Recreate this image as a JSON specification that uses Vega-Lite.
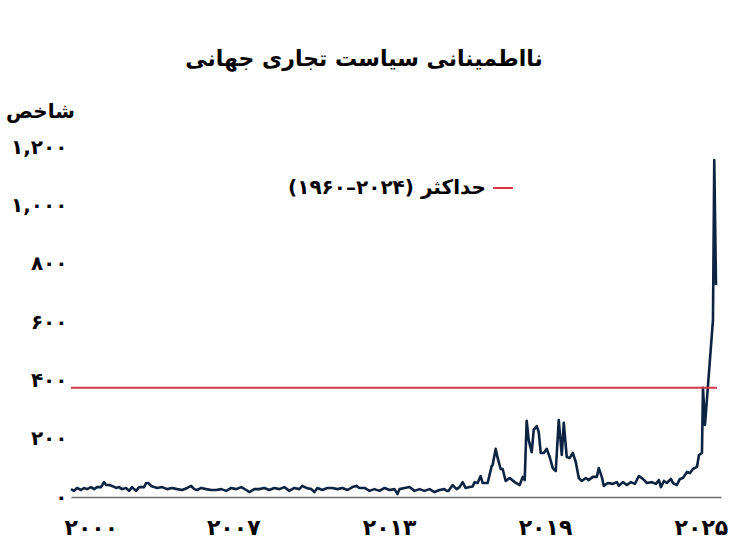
{
  "$schema": "https://vega.github.io/schema/vega-lite/v6.json",
  "width": 650,
  "height": 350,
  "autosize": {"type": "none"},
  "padding": {"left": 71, "top": 147, "right": 21, "bottom": 47},
  "background": "white",
  "title": {
    "text": "نااطمینانی سیاست تجاری جهانی",
    "font": "DejaVu Sans",
    "fontSize": 22,
    "fontWeight": "bold",
    "color": "black",
    "anchor": "middle",
    "frame": "group",
    "dx": -32,
    "offset": 30
  },
  "config": {"view": {"stroke": null}, "font": "DejaVu Sans"},
  "datasets": {
    "series": [
      {"year": 2000.755, "index": 27}, {"year": 2000.871, "index": 21}, {"year": 2000.986, "index": 31}, {"year": 2001.140, "index": 24},
      {"year": 2001.256, "index": 31}, {"year": 2001.372, "index": 27}, {"year": 2001.526, "index": 34}, {"year": 2001.642, "index": 27},
      {"year": 2001.757, "index": 34}, {"year": 2001.911, "index": 34}, {"year": 2002.027, "index": 51}, {"year": 2002.104, "index": 41},
      {"year": 2002.220, "index": 41}, {"year": 2002.335, "index": 38}, {"year": 2002.490, "index": 31}, {"year": 2002.605, "index": 34},
      {"year": 2002.721, "index": 27}, {"year": 2002.875, "index": 31}, {"year": 2002.991, "index": 21}, {"year": 2003.106, "index": 34},
      {"year": 2003.261, "index": 21}, {"year": 2003.376, "index": 34}, {"year": 2003.569, "index": 34}, {"year": 2003.646, "index": 48},
      {"year": 2003.723, "index": 48}, {"year": 2003.839, "index": 38}, {"year": 2003.955, "index": 34}, {"year": 2004.070, "index": 31},
      {"year": 2004.263, "index": 34}, {"year": 2004.456, "index": 27}, {"year": 2004.648, "index": 31}, {"year": 2004.841, "index": 27},
      {"year": 2005.034, "index": 24}, {"year": 2005.227, "index": 31}, {"year": 2005.381, "index": 38}, {"year": 2005.497, "index": 27},
      {"year": 2005.612, "index": 24}, {"year": 2005.766, "index": 31}, {"year": 2005.959, "index": 27}, {"year": 2006.152, "index": 24},
      {"year": 2006.345, "index": 24}, {"year": 2006.537, "index": 27}, {"year": 2006.730, "index": 21}, {"year": 2006.923, "index": 31},
      {"year": 2007.116, "index": 27}, {"year": 2007.308, "index": 34}, {"year": 2007.501, "index": 24}, {"year": 2007.617, "index": 17},
      {"year": 2007.810, "index": 27}, {"year": 2008.002, "index": 27}, {"year": 2008.195, "index": 31}, {"year": 2008.388, "index": 24},
      {"year": 2008.581, "index": 31}, {"year": 2008.773, "index": 27}, {"year": 2008.966, "index": 34}, {"year": 2009.159, "index": 21},
      {"year": 2009.352, "index": 31}, {"year": 2009.544, "index": 27}, {"year": 2009.660, "index": 38}, {"year": 2009.814, "index": 31},
      {"year": 2010.007, "index": 27}, {"year": 2010.123, "index": 17}, {"year": 2010.238, "index": 31}, {"year": 2010.431, "index": 24},
      {"year": 2010.624, "index": 31}, {"year": 2010.817, "index": 31}, {"year": 2011.009, "index": 27}, {"year": 2011.202, "index": 31},
      {"year": 2011.395, "index": 24}, {"year": 2011.588, "index": 34}, {"year": 2011.742, "index": 38}, {"year": 2011.857, "index": 31},
      {"year": 2012.050, "index": 31}, {"year": 2012.243, "index": 21}, {"year": 2012.436, "index": 27}, {"year": 2012.628, "index": 21},
      {"year": 2012.821, "index": 31}, {"year": 2013.014, "index": 24}, {"year": 2013.207, "index": 27}, {"year": 2013.322, "index": 10},
      {"year": 2013.399, "index": 27}, {"year": 2013.592, "index": 31}, {"year": 2013.785, "index": 34}, {"year": 2013.978, "index": 21},
      {"year": 2014.170, "index": 27}, {"year": 2014.363, "index": 21}, {"year": 2014.556, "index": 27}, {"year": 2014.749, "index": 17},
      {"year": 2014.941, "index": 24}, {"year": 2015.134, "index": 27}, {"year": 2015.211, "index": 21}, {"year": 2015.288, "index": 21},
      {"year": 2015.443, "index": 41}, {"year": 2015.520, "index": 34}, {"year": 2015.597, "index": 27}, {"year": 2015.712, "index": 34},
      {"year": 2015.828, "index": 51}, {"year": 2015.944, "index": 31}, {"year": 2016.098, "index": 34}, {"year": 2016.214, "index": 36},
      {"year": 2016.291, "index": 51}, {"year": 2016.406, "index": 48}, {"year": 2016.522, "index": 72}, {"year": 2016.599, "index": 48},
      {"year": 2016.792, "index": 48}, {"year": 2016.946, "index": 106}, {"year": 2016.985, "index": 110}, {"year": 2017.100, "index": 165},
      {"year": 2017.177, "index": 134}, {"year": 2017.293, "index": 96}, {"year": 2017.370, "index": 96}, {"year": 2017.486, "index": 55},
      {"year": 2017.640, "index": 65}, {"year": 2017.833, "index": 51}, {"year": 2018.025, "index": 41}, {"year": 2018.141, "index": 69},
      {"year": 2018.218, "index": 58}, {"year": 2018.295, "index": 261}, {"year": 2018.372, "index": 195}, {"year": 2018.488, "index": 154},
      {"year": 2018.565, "index": 230}, {"year": 2018.681, "index": 243}, {"year": 2018.758, "index": 223}, {"year": 2018.835, "index": 151},
      {"year": 2018.951, "index": 151}, {"year": 2019.066, "index": 165}, {"year": 2019.182, "index": 137}, {"year": 2019.298, "index": 99},
      {"year": 2019.413, "index": 89}, {"year": 2019.529, "index": 264}, {"year": 2019.645, "index": 144}, {"year": 2019.722, "index": 254},
      {"year": 2019.837, "index": 137}, {"year": 2019.953, "index": 134}, {"year": 2020.069, "index": 151}, {"year": 2020.184, "index": 120},
      {"year": 2020.300, "index": 65}, {"year": 2020.416, "index": 55}, {"year": 2020.570, "index": 65}, {"year": 2020.685, "index": 58},
      {"year": 2020.839, "index": 69}, {"year": 2020.994, "index": 69}, {"year": 2021.071, "index": 99}, {"year": 2021.186, "index": 69},
      {"year": 2021.263, "index": 38}, {"year": 2021.417, "index": 48}, {"year": 2021.610, "index": 45}, {"year": 2021.764, "index": 51},
      {"year": 2021.841, "index": 38}, {"year": 2021.996, "index": 51}, {"year": 2022.150, "index": 41}, {"year": 2022.304, "index": 51},
      {"year": 2022.459, "index": 45}, {"year": 2022.613, "index": 72}, {"year": 2022.767, "index": 62}, {"year": 2022.921, "index": 48},
      {"year": 2023.114, "index": 51}, {"year": 2023.268, "index": 45}, {"year": 2023.384, "index": 58}, {"year": 2023.461, "index": 34},
      {"year": 2023.577, "index": 55}, {"year": 2023.692, "index": 48}, {"year": 2023.846, "index": 62}, {"year": 2023.923, "index": 48},
      {"year": 2024.078, "index": 41}, {"year": 2024.193, "index": 62}, {"year": 2024.309, "index": 65}, {"year": 2024.463, "index": 86},
      {"year": 2024.579, "index": 82}, {"year": 2024.694, "index": 96}, {"year": 2024.849, "index": 103}, {"year": 2024.926, "index": 144},
      {"year": 2025.041, "index": 151}, {"year": 2025.080, "index": 374}, {"year": 2025.157, "index": 247}, {"year": 2025.465, "index": 607},
      {"year": 2025.515, "index": 1155}, {"year": 2025.581, "index": 727}
    ],
    "maxline": [
      {"start": 2000.755, "end": 2025.62, "value": 375, "label": "حداکثر (⁦۱۹۶۰–۲۰۲۴⁩)‏"}
    ]
  },
  "layer": [
    {
      "data": {"name": "series"},
      "mark": {"type": "line", "color": "#0c2341", "strokeWidth": 2.6, "strokeJoin": "round"},
      "encoding": {
        "x": {
          "field": "year",
          "type": "quantitative",
          "scale": {"domain": [2000.755, 2025.774], "nice": false, "zero": false},
          "axis": {
            "title": null,
            "values": [2000.755, 2007, 2013, 2019, 2025],
            "labelExpr": "datum.value < 2001 ? '۲۰۰۰' : datum.value == 2007 ? '۲۰۰۷' : datum.value == 2013 ? '۲۰۱۳' : datum.value == 2019 ? '۲۰۱۹' : '۲۰۲۵'",
            "ticks": false,
            "grid": false,
            "domainColor": "#6b6b6b",
            "domainWidth": 1.5,
            "labelFont": "DejaVu Sans",
            "labelFontSize": 22,
            "labelFontWeight": "bold",
            "labelColor": "black",
            "labelPadding": 20,
            "labelFlush": false,
            "labelAlign": {"condition": {"test": "datum.value < 2001", "value": "left"}, "value": "center"},
            "labelOffset": {"condition": {"test": "datum.value < 2001", "value": -7}, "value": 0}
          }
        },
        "y": {
          "field": "index",
          "type": "quantitative",
          "scale": {"domain": [0, 1200], "nice": false},
          "axis": {
            "title": "شاخص",
            "titleAngle": 0,
            "titleAlign": "center",
            "titleBaseline": "middle",
            "titleX": -31,
            "titleY": -36,
            "titleFont": "DejaVu Sans",
            "titleFontSize": 20,
            "titleFontWeight": "bold",
            "titleColor": "black",
            "values": [0, 200, 400, 600, 800, 1000, 1200],
            "labelExpr": "datum.value == 0 ? '۰' : datum.value == 200 ? '۲۰۰' : datum.value == 400 ? '۴۰۰' : datum.value == 600 ? '۶۰۰' : datum.value == 800 ? '۸۰۰' : datum.value == 1000 ? '۱,۰۰۰' : '۱,۲۰۰'",
            "labelFont": "DejaVu Sans",
            "labelFontSize": 20,
            "labelFontWeight": "bold",
            "labelColor": "black",
            "labelPadding": 4,
            "ticks": false,
            "domain": false,
            "grid": false
          }
        }
      }
    },
    {
      "data": {"name": "maxline"},
      "mark": {"type": "rule", "strokeWidth": 2},
      "encoding": {
        "x": {"field": "start", "type": "quantitative"},
        "x2": {"field": "end"},
        "y": {"field": "value", "type": "quantitative"},
        "color": {
          "field": "label",
          "type": "nominal",
          "scale": {"range": ["#d23a48"]},
          "legend": {
            "orient": "none",
            "legendX": 421,
            "legendY": 30,
            "title": null,
            "padding": 0,
            "symbolType": "stroke",
            "symbolSize": 400,
            "symbolStrokeWidth": 2,
            "labelAlign": "right",
            "labelOffset": -28,
            "labelFont": "DejaVu Sans",
            "labelFontSize": 20,
            "labelFontWeight": "bold",
            "labelColor": "black",
            "labelLimit": 400
          }
        }
      }
    }
  ]
}
